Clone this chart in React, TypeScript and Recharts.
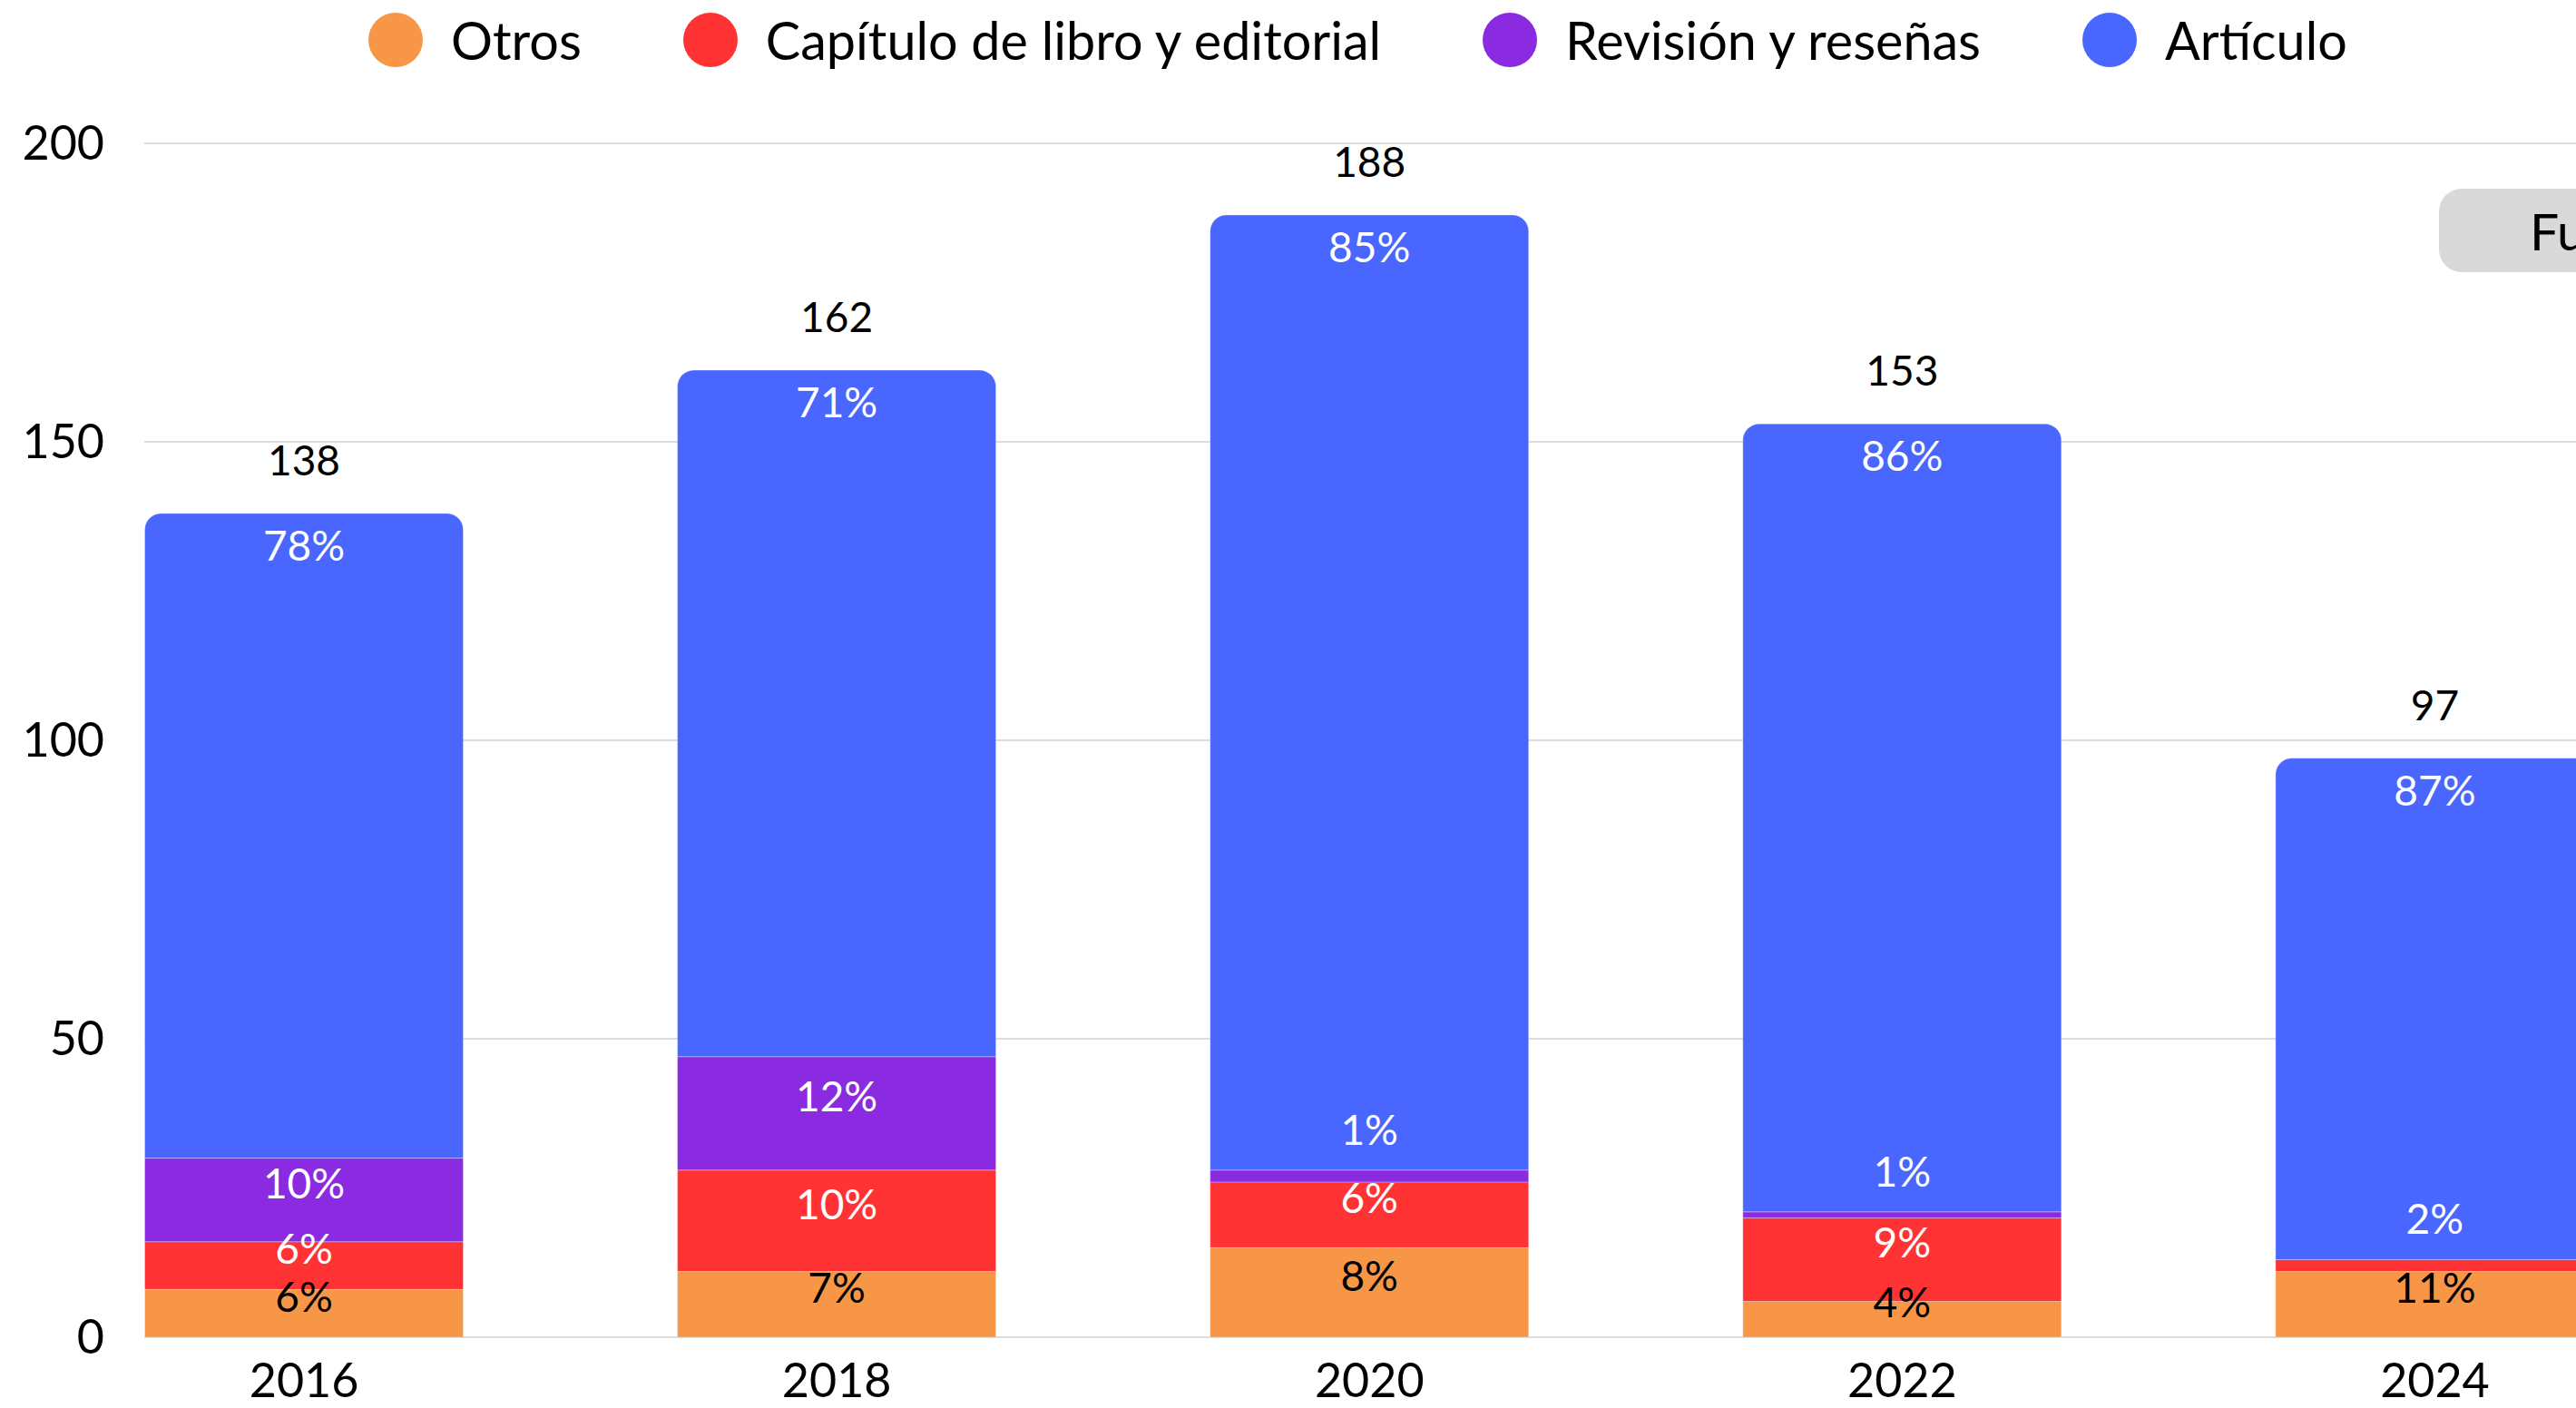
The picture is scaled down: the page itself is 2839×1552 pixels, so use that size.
import { Bar, BarChart, CartesianGrid, LabelList, Legend, XAxis, YAxis } from 'recharts';

const years = ['2016', '2018', '2020', '2022', '2024'];
const otros = [8, 11, 15, 6, 11];
const capitulo = [8, 17, 11, 14, 2];
const revision = [14, 19, 2, 1, 0];
const articulo = [108, 115, 160, 132, 84];
const yTicks = [0, 50, 100, 150, 200];

const totals = years.map((_, i) => otros[i] + capitulo[i] + revision[i] + articulo[i]);

const data = years.map((year, i) => ({
  year,
  otros: otros[i],
  capitulo: capitulo[i],
  revision: revision[i],
  articulo: articulo[i],
}));

const series = [
  { key: 'otros', name: 'Otros', color: '#F79646', text: '#000000', values: otros },
  { key: 'capitulo', name: 'Capítulo de libro y editorial', color: '#FF3333', text: '#FFFFFF', values: capitulo },
  { key: 'revision', name: 'Revisión y reseñas', color: '#8A2BE2', text: '#FFFFFF', values: revision },
  { key: 'articulo', name: 'Artículo', color: '#4966FF', text: '#FFFFFF', values: articulo },
];

const FONT = 'Lato';

const box = (props: any) => {
  const vb = props.viewBox ?? props;
  return {
    x: Number(vb.x ?? props.x),
    y: Number(vb.y ?? props.y),
    width: Number(vb.width ?? props.width),
    height: Number(vb.height ?? props.height),
    index: Number(props.index),
  };
};

const pct = (values: number[], i: number) => Math.round((values[i] / totals[i]) * 100);

const segmentLabel = (values: number[], color: string) => (props: any) => {
  const { x, y, width, height, index } = box(props);
  if (!values[index]) return null;
  const cx = x + width / 2;
  // small slices get their label pushed above the segment
  const baseline = Math.abs(height) < 30 ? y - 28 : y + height / 2 - 2;
  return (
    <text
      x={cx}
      y={baseline}
      textAnchor='middle'
      fill={color}
      fontSize={46}
      fontFamily={FONT}
    >
      {pct(values, index)}%
    </text>
  );
};

const topLabel = (props: any) => {
  const { x, y, width, index } = box(props);
  const cx = x + width / 2;
  return (
    <g>
      <text x={cx} y={y + 52} textAnchor='middle' fill='#FFFFFF' fontSize={46} fontFamily={FONT}>
        {pct(articulo, index)}%
      </text>
      <text x={cx} y={y - 42} textAnchor='middle' fill='#000000' fontSize={46} fontFamily={FONT}>
        {totals[index]}
      </text>
    </g>
  );
};

const LegendContent = () => (
  <div
    style={{
      display: 'flex',
      alignItems: 'center',
      height: 88,
      paddingLeft: 406,
      gap: 112,
      fontFamily: FONT,
      fontSize: 57.5,
      color: '#000',
    }}
  >
    {series.map(s => (
      <div key={s.key} style={{ display: 'flex', alignItems: 'center' }}>
        <span
          style={{
            width: 60,
            height: 60,
            borderRadius: '50%',
            background: s.color,
            marginRight: 31,
            display: 'inline-block',
          }}
        />
        <span style={{ lineHeight: 1 }}>{s.name}</span>
      </div>
    ))}
  </div>
);

export default function App() {
  return (
    <div
      style={{
        position: 'fixed',
        left: 0,
        top: 0,
        width: 2839,
        height: 1552,
        overflow: 'hidden',
        background: '#fff',
      }}
    >
      <BarChart
        width={2990}
        height={1552}
        data={data}
        margin={{ top: 70, right: 13, left: 0, bottom: 0 }}
      >
        <CartesianGrid vertical={false} stroke='#DCDCDC' strokeWidth={2} />
        <XAxis
          dataKey='year'
          axisLine={false}
          tickLine={false}
          tickSize={0}
          tickMargin={29}
          height={78}
          padding={{ left: -117.5, right: 0 }}
          tick={{ fill: '#000', fontSize: 52, fontFamily: FONT }}
        />
        <YAxis
          domain={[0, 200]}
          ticks={yTicks}
          axisLine={false}
          tickLine={false}
          tickSize={0}
          tickMargin={44}
          width={159}
          tick={{ fill: '#000', fontSize: 52, fontFamily: FONT }}
        />
        <Legend
          verticalAlign='top'
          height={88}
          wrapperStyle={{ top: 0, left: 0, width: 2990 }}
          content={LegendContent}
        />
        {series.map((s, i) => (
          <Bar
            key={s.key}
            dataKey={s.key}
            name={s.name}
            stackId='a'
            fill={s.color}
            stroke='rgba(255,255,255,0.3)'
            strokeWidth={1}
            barSize={351}
            radius={i === series.length - 1 ? [18, 18, 0, 0] : 0}
            isAnimationActive={false}
          >
            {i === series.length - 1 ? (
              <LabelList dataKey={s.key} content={topLabel} />
            ) : (
              <LabelList dataKey={s.key} content={segmentLabel(s.values, s.text)} />
            )}
          </Bar>
        ))}
      </BarChart>
      <div
        style={{
          position: 'absolute',
          left: 2688,
          top: 208,
          width: 420,
          height: 92,
          background: '#D9D9D9',
          borderRadius: 25,
          fontFamily: FONT,
          fontSize: 57,
          color: '#000',
          display: 'flex',
          alignItems: 'center',
          paddingLeft: 100,
          boxSizing: 'border-box',
          whiteSpace: 'nowrap',
        }}
      >
        Fuente
      </div>
    </div>
  );
}
